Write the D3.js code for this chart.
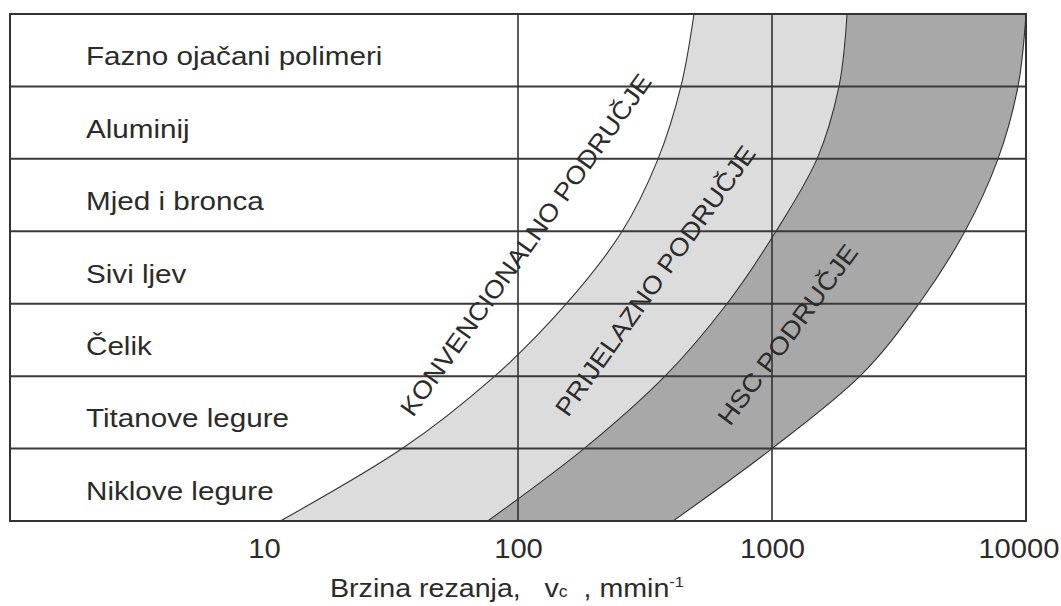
<!DOCTYPE html>
<html>
<head>
<meta charset="utf-8">
<script src="https://cdn.jsdelivr.net/npm/d3@7/dist/d3.min.js"></script>
<style>
  body { margin: 0; background: #fff; }
  text { font-family: "Liberation Sans", Arial, sans-serif; fill: #2b2b2b; }
</style>
</head>
<body>
<script>
const w = 1061;
const h = 606;

// materials, top row first
const rows = ["Fazno ojačani polimeri", "Aluminij", "Mjed i bronca", "Sivi ljev", "Čelik", "Titanove legure", "Niklove legure"];

// cutting speed (m/min) where each zone ends, read at the row borders (top border first)
const conventionalMax = [493, 438, 356, 257, 155, 81, 35, 11.6];
const transitionMax = [1974, 1835, 1504, 1037, 665, 379, 182, 76];
const hscMax = [10000, 9300, 7760, 5750, 3790, 2220, 1000, 408];

const xTicks = [10, 100, 1000, 10000];
const gridValues = [100, 1000];

const zoneLabels = ["KONVENCIONALNO PODRUČJE", "PRIJELAZNO PODRUČJE", "HSC PODRUČJE"];

const plotLeft = 10, plotRight = 1026, plotTop = 14, plotBottom = 521;

const svg = d3.select("body").append("svg").attr("width", w).attr("height", h);

const x = d3.scaleLog().domain([1, 10000]).range([plotLeft, plotRight]);
const yEdge = d3.scaleLinear().domain([0, rows.length]).range([plotTop, plotBottom]);
const yRow = d3.scaleBand().domain(rows).range([plotTop, plotBottom]);

const edges = d3.range(rows.length + 1);

svg.append("clipPath").attr("id", "plot")
  .append("rect")
  .attr("x", plotLeft).attr("y", plotTop)
  .attr("width", plotRight - plotLeft).attr("height", plotBottom - plotTop);

const zones = svg.append("g").attr("clip-path", "url(#plot)");

function band(a, b) {
  return d3.area()
    .y(i => yEdge(i))
    .x0(i => x(a[i]))
    .x1(i => x(b[i]))
    .curve(d3.curveMonotoneY)(edges);
}

function edgeLine(a) {
  return d3.line()
    .x(i => x(a[i]))
    .y(i => yEdge(i))
    .curve(d3.curveMonotoneY)(edges);
}

zones.append("path").attr("d", band(conventionalMax, transitionMax)).attr("fill", "#dcdcdc");
zones.append("path").attr("d", band(transitionMax, hscMax)).attr("fill", "#a8a8a8");

[conventionalMax, transitionMax, hscMax].forEach(a => {
  zones.append("path")
    .attr("d", edgeLine(a))
    .attr("fill", "none")
    .attr("stroke", "#333")
    .attr("stroke-width", 1.1);
});

// row borders
svg.selectAll(".hline")
  .data(edges)
  .enter()
  .append("line")
  .attr("x1", plotLeft).attr("x2", plotRight)
  .attr("y1", i => yEdge(i)).attr("y2", i => yEdge(i))
  .attr("stroke", "#3a3a3a")
  .attr("stroke-width", 2);

// vertical grid at 100 and 1000
svg.selectAll(".vline")
  .data(gridValues)
  .enter()
  .append("line")
  .attr("x1", d => x(d)).attr("x2", d => x(d))
  .attr("y1", plotTop).attr("y2", plotBottom)
  .attr("stroke", "#333")
  .attr("stroke-width", 1.6);

svg.append("rect")
  .attr("x", plotLeft).attr("y", plotTop)
  .attr("width", plotRight - plotLeft).attr("height", plotBottom - plotTop)
  .attr("fill", "none")
  .attr("stroke", "#333")
  .attr("stroke-width", 2);

// material names
svg.selectAll(".row-label")
  .data(rows)
  .enter()
  .append("text")
  .attr("transform", d => "translate(86," + (yRow(d) + yRow.bandwidth() / 2 + 15) + ") scale(1.14,1)")
  .style("font-size", "26px")
  .text(d => d);

// x axis, labels only
const xAxis = d3.axisBottom(x).tickValues(xTicks).tickFormat(d3.format("d")).tickSize(0);
const ax = svg.append("g")
  .attr("transform", "translate(0," + plotBottom + ")")
  .call(xAxis);
ax.select(".domain").remove();
ax.selectAll("text")
  .attr("y", 37)
  .attr("dy", 0)
  .attr("x", d => d === 10000 ? -7 : 0) // last label pulled in so it stays on the page
  .attr("fill", "#2b2b2b")
  .attr("transform", "scale(1.08,1)")
  .style("font-size", "27px")
  .style("font-family", "'Liberation Sans', Arial, sans-serif");

// axis title
const title = svg.append("text")
  .attr("transform", "translate(330,597) scale(1.1,1)")
  .style("font-size", "26px")
  .attr("xml:space", "preserve");
title.append("tspan").text("Brzina rezanja,   v");
title.append("tspan").style("font-size", "16px").text("c");
title.append("tspan").text("  , mmin");
title.append("tspan").style("font-size", "15px").attr("dy", -10).text("-1");

// zone names along the curves
const zonePos = [
  { x: 413, y: 418, angle: -54.5, len: 413 },
  { x: 568, y: 418, angle: -54.5, len: 325 },
  { x: 730, y: 427, angle: -53.5, len: 217 }
];
svg.selectAll(".zone-label")
  .data(zoneLabels)
  .enter()
  .append("text")
  .attr("transform", (d, i) => "translate(" + zonePos[i].x + "," + zonePos[i].y + ") rotate(" + zonePos[i].angle + ")")
  .attr("textLength", (d, i) => zonePos[i].len)
  .attr("lengthAdjust", "spacingAndGlyphs")
  .style("font-size", "25px")
  .text(d => d);
</script>
</body>
</html>
